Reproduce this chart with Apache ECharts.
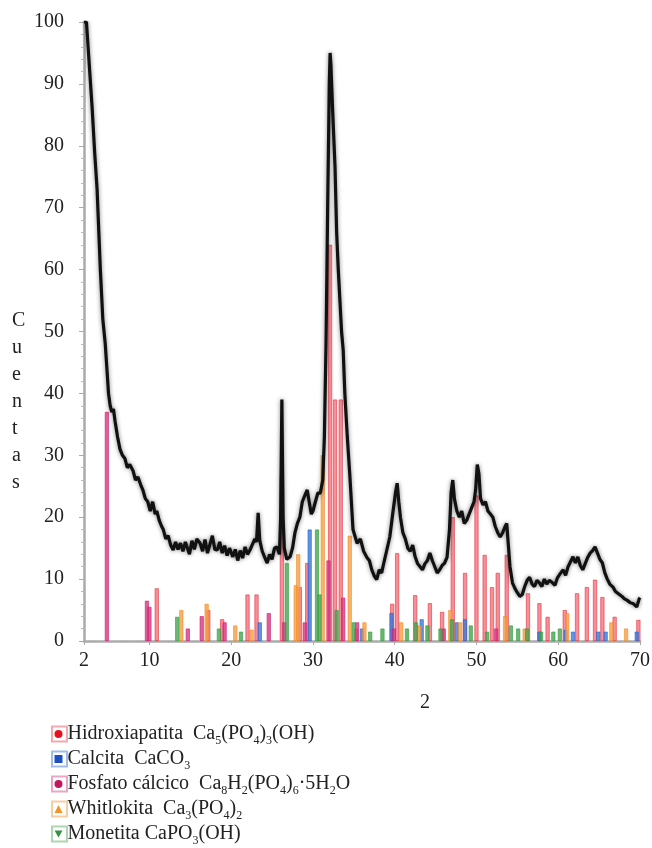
<!DOCTYPE html>
<html>
<head>
<meta charset="utf-8">
<script src="https://cdn.jsdelivr.net/npm/echarts@6/dist/echarts.min.js"></script>
<style>
  html, body { margin: 0; padding: 0; background: #fff; }
  #chart { width: 652px; height: 848px; }
</style>
</head>
<body>
<div id="chart"></div>
<script>
// measured scan (2 theta, counts)
const scanAngle = [2.0, 2.3, 2.5, 2.7, 3.0, 3.3, 3.6, 4.0, 4.3, 4.6, 4.8, 5.0, 5.2, 5.4, 5.6, 5.8, 6.1, 6.4, 6.7, 7.0,
  7.3, 7.6, 8.0, 8.3, 8.6, 9.0, 9.2, 9.5, 9.8, 10.1, 10.4, 10.7, 10.9, 11.2, 11.5, 11.7, 12.0, 12.3, 12.6, 12.9,
  13.2, 13.5, 13.8, 14.1, 14.4, 14.6, 14.9, 15.2, 15.5, 15.8, 16.2, 16.5, 16.8, 17.1, 17.4, 17.7, 18.0, 18.3, 18.6, 18.9,
  19.2, 19.5, 19.8, 20.2, 20.5, 20.8, 21.1, 21.4, 21.7, 22.0, 22.3, 22.6, 22.9, 23.1, 23.3, 23.5, 23.8, 24.1, 24.4, 24.7,
  25.0, 25.3, 25.6, 25.9, 26.05, 26.2, 26.35, 26.5, 26.8, 27.2, 27.5, 27.8, 28.1, 28.4, 28.7, 29.0, 29.3, 29.6, 29.8, 30.0,
  30.3, 30.6, 30.9, 31.2, 31.4, 31.6, 31.8, 32.0, 32.1, 32.2, 32.4, 32.7, 32.9, 33.1, 33.3, 33.5, 33.7, 33.9, 34.2, 34.5,
  34.9, 35.4, 35.8, 36.2, 36.6, 36.9, 37.2, 37.5, 37.8, 38.1, 38.4, 38.7, 39.0, 39.4, 39.8, 40.1, 40.3, 40.5, 40.7, 41.0,
  41.3, 41.6, 41.9, 42.2, 42.5, 42.8, 43.1, 43.4, 43.7, 44.0, 44.3, 44.6, 44.9, 45.2, 45.5, 45.8, 46.1, 46.4, 46.7, 46.9,
  47.1, 47.3, 47.6, 47.9, 48.2, 48.5, 48.8, 49.1, 49.4, 49.7, 49.9, 50.1, 50.3, 50.5, 50.8, 51.1, 51.4, 51.7, 52.0, 52.3,
  52.6, 52.9, 53.2, 53.5, 53.7, 53.9, 54.1, 54.4, 54.7, 55.0, 55.3, 55.6, 55.9, 56.2, 56.5, 56.8, 57.1, 57.4, 57.7, 58.0,
  58.3, 58.6, 58.9, 59.3, 59.6, 59.9, 60.2, 60.6, 60.9, 61.2, 61.5, 61.8, 62.1, 62.4, 62.7, 63.0, 63.3, 63.6, 63.9, 64.2,
  64.5, 64.8, 65.1, 65.4, 65.7, 66.0, 66.3, 66.7, 67.0, 67.4, 67.8, 68.1, 68.4, 68.8, 69.2, 69.6, 69.9, 70.0];
const scanCounts = [100, 100, 96, 92, 86, 79, 73, 60, 52, 48, 44, 40, 38, 37, 37.5, 35.5, 33, 31, 30, 29.5,
  28, 28.5, 27.5, 26, 26.5, 25, 24.4, 23, 22.5, 21, 22.5, 20.5, 21, 19.5, 18.5, 18, 16.5, 17, 15.5, 14.7,
  16, 14.8, 15.8, 14.5, 16, 15.2, 14, 16.2, 14.8, 16.5, 15.8, 14.5, 16.4, 14.2, 15.6, 17, 14.8, 14.7, 16, 14.2,
  15.4, 13.8, 15, 13.6, 14.8, 13, 14.6, 13.4, 15.2, 14, 14.7, 15.6, 16.5, 16, 20.7, 16.2, 14.5, 13.5, 12.6, 14,
  13.2, 15, 15.2, 14, 20, 39, 20, 15, 13.2, 13.6, 15, 17.5, 19, 20, 22.5, 23.5, 24.4, 22, 20.5, 21,
  22.5, 23.9, 23.9, 26, 33, 48, 70, 90, 95, 93, 86, 76.6, 66, 60, 55, 50, 47, 40, 33, 27,
  18, 15.8, 16.5, 14.5, 13.5, 13, 11.5, 10.5, 9.9, 11.5, 11, 12.8, 14.5, 16.8, 21, 24, 25.5, 22.5, 20, 17.5,
  16.5, 15, 14.5, 15.5, 13.6, 12.5, 12, 11.5, 12.5, 13, 14.2, 13, 12, 11, 11.5, 12.2, 12.6, 13.5, 18, 24,
  26, 23, 21, 20, 21, 19, 19.5, 20.5, 21.5, 22.5, 24.5, 28.5, 27, 23, 22, 22.5, 21, 20.5, 20, 18.5,
  17.5, 16.8, 17.5, 18.5, 19, 15.5, 12, 9.4, 8.5, 7.8, 7.2, 7.5, 8.8, 9.8, 10.3, 9.2, 8.8, 9.8, 9.4, 8.8,
  10, 9.2, 9.8, 9.4, 9, 10.2, 10.8, 11.5, 10.6, 12, 12.8, 13.6, 12.6, 13.6, 12.2, 11.5, 12.5, 13.5, 14.2, 14.6,
  15.2, 14.2, 13.2, 12.6, 11, 10, 9.2, 8.7, 8, 7.6, 7.2, 6.8, 6.6, 6.2, 6, 5.5, 6.8, 7];

// reference patterns: [2 theta, relative intensity]
const hidroxiapatita = [[10.9, 8.5], [17.2, 5], [18.9, 3.5], [22.0, 7.5], [23.1, 7.5], [26.2, 26.5], [28.4, 8.7], [29.3, 12.6],
  [32.1, 64], [32.7, 39], [33.4, 39], [35.3, 2], [39.7, 6], [40.3, 14.2], [42.5, 7.4], [44.3, 6.1], [45.8, 4.7],
  [47.1, 20], [48.6, 11], [50.0, 23.5], [51.0, 13.9], [51.9, 8.7], [52.6, 11], [53.7, 13.9], [56.3, 7.7],
  [57.7, 6.1], [58.7, 3.9], [60.8, 5], [62.3, 7.7], [63.5, 8.7], [64.5, 9.9], [65.4, 7.1], [66.9, 3.9], [69.8, 3.4]];
const calcita = [[23.5, 3], [29.6, 18], [36.0, 2], [39.6, 4.5], [43.3, 3.5], [47.6, 3], [48.6, 3.5], [57.7, 1.5],
  [60.9, 1.8], [61.8, 1.5], [64.9, 1.5], [65.8, 1.5], [69.6, 1.5]];
const fosfatoCalcico = [[4.8, 37], [9.7, 6.5], [10.0, 5.5], [14.7, 2], [16.4, 4], [19.2, 3], [24.6, 4.5], [26.5, 3],
  [29.0, 3], [31.9, 13], [33.7, 7], [35.4, 3], [39.9, 2], [46.0, 2], [52.4, 2]];
const whitlokita = [[13.9, 5], [17.0, 6], [20.5, 2.5], [22.5, 1.8], [27.9, 9], [28.2, 14], [31.2, 30], [34.5, 17],
  [36.3, 3], [40.8, 3], [43.0, 2.5], [46.8, 5], [48.0, 3], [53.5, 4], [55.9, 2], [61.1, 4.5], [66.5, 3], [68.3, 2]];
const monetita = [[13.4, 3.9], [18.5, 2], [21.2, 1.5], [26.8, 12.6], [30.5, 18], [30.8, 7.5], [32.9, 5], [35.0, 3],
  [37.0, 1.5], [38.5, 2], [41.5, 2], [42.6, 3], [44.0, 2.5], [45.6, 2], [47.0, 3.5], [49.3, 2.5], [51.3, 1.5],
  [54.2, 2.5], [55.1, 2], [56.2, 2], [57.9, 1.5], [59.4, 1.5], [60.2, 2]];

const xTicks = [2, 10, 20, 30, 40, 50, 60, 70];

const phases = [
  { name: 'Hidroxiapatita', data: hidroxiapatita, fill: 'rgba(242,100,112,0.72)', line: '#e0303e', mark: '#e3121e', box: '#f3a9b0', icon: 'circle',
    label: '{t|Hidroxiapatita  Ca}{s|5}{t|(PO}{s|4}{t|)}{s|3}{t|(OH)}' },
  { name: 'Calcita', data: calcita, fill: 'rgba(60,120,220,0.8)', line: '#2a62c8', mark: '#1f4fc0', box: '#9fbde9', icon: 'rect',
    label: '{t|Calcita  CaCO}{s|3}' },
  { name: 'Fosfato cálcico', data: fosfatoCalcico, fill: 'rgba(214,50,130,0.78)', line: '#c81e6e', mark: '#c0185e', box: '#eaa6c8', icon: 'circle',
    label: '{t|Fosfato cálcico  Ca}{s|8}{t|H}{s|2}{t|(PO}{s|4}{t|)}{s|6}{t|·5H}{s|2}{t|O}' },
  { name: 'Whitlokita', data: whitlokita, fill: 'rgba(246,160,70,0.8)', line: '#f08a20', mark: '#f39428', box: '#f7cda3', icon: 'triangle',
    label: '{t|Whitlokita  Ca}{s|3}{t|(PO}{s|4}{t|)}{s|2}' },
  { name: 'Monetita', data: monetita, fill: 'rgba(70,165,80,0.8)', line: '#2f9a3e', mark: '#3a9042', box: '#aed6b2', icon: 'path://M0,0L10,0L5,9Z',
    label: '{t|Monetita CaPO}{s|3}{t|(OH)}' }
];

const serif = '"Liberation Serif", "DejaVu Serif", serif';
const richFor = color => ({
  t: { fontFamily: serif, fontSize: 20, color: color, lineHeight: 25 },
  s: { fontFamily: serif, fontSize: 12, color: color, lineHeight: 14, verticalAlign: 'bottom' }
});

const series = [
  {
    name: 'scan',
    type: 'line',
    data: scanAngle.map((a, i) => [a, scanCounts[i]]),
    showSymbol: false,
    z: 4,
    lineStyle: { color: '#111', width: 3.2, shadowColor: 'rgba(0,0,0,0.5)', shadowBlur: 4 }
  }
].concat(phases.map(p => ({
  name: p.name,
  type: 'bar',
  data: p.data,
  barWidth: 4,
  barGap: '-100%',
  z: 2,
  itemStyle: { color: p.fill, borderColor: p.line, borderWidth: 0.6 }
})));

// one legend per row so every row sits at a fixed height;
// boxes first (text hidden), then symbol + formula on top
const legendTop = 719;
const legendStep = 25;
const boxLegends = phases.map((p, i) => ({
  orient: 'vertical',
  left: 46,
  top: legendTop + i * legendStep,
  itemWidth: 15,
  itemHeight: 15,
  icon: 'rect',
  selectedMode: false,
  data: [{ name: p.name, itemStyle: { color: 'rgba(255,255,255,0.5)', borderColor: p.box, borderWidth: 2 } }],
  formatter: () => p.label,
  textStyle: { rich: richFor('rgba(0,0,0,0)') }
}));
const textLegends = phases.map((p, i) => ({
  orient: 'vertical',
  left: 49.5,
  top: legendTop + i * legendStep,
  itemWidth: 8,
  itemHeight: 8,
  itemTextGap: 9,
  selectedMode: false,
  data: [{ name: p.name, icon: p.icon, itemStyle: { color: p.mark, borderWidth: 0 } }],
  formatter: () => p.label,
  textStyle: { rich: richFor('#222') }
}));

const chart = echarts.init(document.getElementById('chart'));
chart.setOption({
  animation: false,
  backgroundColor: '#fff',
  grid: { left: 84, right: 12, top: 22, bottom: 207, outerBoundsMode: 'none' },
  // y axis title, letters stacked
  graphic: [{
    type: 'text',
    left: 12,
    top: 307,
    style: {
      text: 'C\nu\ne\nn\nt\na\ns',
      font: '20px ' + serif,
      fill: '#222',
      lineHeight: 27,
      align: 'center'
    }
  }],
  xAxis: {
    type: 'value',
    min: 2,
    max: 70,
    name: '2',
    nameLocation: 'middle',
    nameGap: 52,
    nameTextStyle: { fontFamily: serif, fontSize: 20, color: '#222', padding: [0, 0, 0, 126] },
    axisLine: { lineStyle: { color: '#aaa', width: 2.5 } },
    axisTick: { show: true, customValues: xTicks, length: 4, lineStyle: { color: '#aaa' } },
    minorTick: { show: true, splitNumber: 5, length: 2, lineStyle: { color: '#bbb' } },
    splitLine: { show: false },
    axisLabel: { customValues: xTicks, margin: 10, fontFamily: serif, fontSize: 20, color: '#222' }
  },
  yAxis: {
    type: 'value',
    min: 0,
    max: 100,
    interval: 10,
    axisLine: { show: true, lineStyle: { color: '#aaa', width: 2.5 } },
    axisTick: { show: true, length: 5, lineStyle: { color: '#aaa' } },
    minorTick: { show: true, splitNumber: 5, length: 3, lineStyle: { color: '#bbb' } },
    splitLine: { show: false },
    axisLabel: { margin: 20, fontFamily: serif, fontSize: 20, color: '#222' }
  },
  legend: boxLegends.concat(textLegends),
  series: series
});
</script>
</body>
</html>
